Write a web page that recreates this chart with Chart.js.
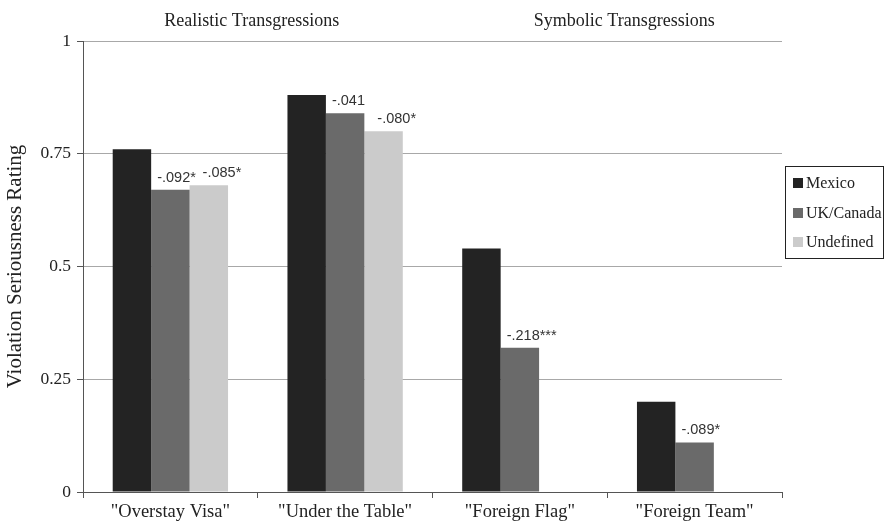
<!DOCTYPE html>
<html>
<head>
<meta charset="utf-8">
<script src="https://cdn.jsdelivr.net/npm/chart.js@4/dist/chart.umd.min.js"></script>
<style>
  html, body { margin: 0; padding: 0; background: #fff; }
  #wrap { width: 886px; height: 523px; position: relative; }
</style>
</head>
<body>
<div id="wrap"><canvas id="c" width="886" height="523"></canvas></div>
<script>
const categories = ['"Overstay Visa"', '"Under the Table"', '"Foreign Flag"', '"Foreign Team"'];
const seriesNames = ['Mexico', 'UK/Canada', 'Undefined'];
const mexico = [0.76, 0.88, 0.54, 0.20];
const ukCanada = [0.67, 0.84, 0.32, 0.11];
const undefinedOrigin = [0.68, 0.80, null, null];
const ukLabels = ['-.092*', '-.041', '-.218***', '-.089*'];
const undefinedLabels = ['-.085*', '-.080*', null, null];
const yTickValues = [0, 0.25, 0.5, 0.75, 1];
const yTickLabels = ['0', '0.25', '0.5', '0.75', '1'];
const groupTitles = ['Realistic Transgressions', 'Symbolic Transgressions'];
const yTitle = 'Violation Seriousness Rating';

const colors = ['#232323', '#6a6a6a', '#cbcbcb'];
const SERIF = '"Liberation Serif", "Times New Roman", serif';
const SANS = '"Liberation Sans", Arial, sans-serif';

const annotatePlugin = {
  id: 'annotate',
  afterDatasetsDraw(chart) {
    const ctx = chart.ctx;
    ctx.save();
    ctx.font = '14.5px ' + SANS;
    ctx.fillStyle = '#333';
    ctx.textAlign = 'left';
    ctx.textBaseline = 'alphabetic';
    const sets = [[1, ukLabels, 6], [2, undefinedLabels, 13]];
    sets.forEach(([di, labels, dx]) => {
      const meta = chart.getDatasetMeta(di);
      meta.data.forEach((bar, i) => {
        if (!labels[i]) return;
        const left = bar.x - bar.width / 2;
        ctx.fillText(labels[i], left + dx, bar.y - 8);
      });
    });
    // group titles
    const x = chart.scales.x;
    ctx.font = '18px ' + SERIF;
    ctx.fillStyle = '#222';
    ctx.textAlign = 'center';
    ctx.textBaseline = 'middle';
    const c0 = x.getPixelForValue(0), c1 = x.getPixelForValue(1);
    const c2 = x.getPixelForValue(2), c3 = x.getPixelForValue(3);
    ctx.fillText(groupTitles[0], (c0 + c1) / 2 - 6, 21);
    ctx.fillText(groupTitles[1], (c2 + c3) / 2 + 17, 21);
    // legend
    const lx = 785, ly = 166, lw = 98, lh = 92;
    ctx.strokeStyle = '#222';
    ctx.lineWidth = 1;
    ctx.strokeRect(lx + 0.5, ly + 0.5, lw, lh);
    ctx.font = '16px ' + SERIF;
    ctx.textAlign = 'left';
    const ys = [183, 213, 242];
    seriesNames.forEach((n, i) => {
      ctx.fillStyle = colors[i];
      ctx.fillRect(lx + 8, ys[i] - 5, 10, 10);
      ctx.fillStyle = '#222';
      ctx.fillText(n, lx + 21, ys[i] + 1);
    });
    ctx.restore();
  }
};

new Chart(document.getElementById('c'), {
  type: 'bar',
  data: {
    labels: categories,
    datasets: [
      { label: seriesNames[0], data: mexico, backgroundColor: colors[0] },
      { label: seriesNames[1], data: ukCanada, backgroundColor: colors[1] },
      { label: seriesNames[2], data: undefinedOrigin, backgroundColor: colors[2] }
    ]
  },
  options: {
    responsive: false,
    animation: false,
    layout: { padding: { left: 0, right: 104, top: 41, bottom: 0 } },
    datasets: { bar: { categoryPercentage: 0.66, barPercentage: 1.0 } },
    plugins: { legend: { display: false }, tooltip: { enabled: false }, title: { display: false } },
    scales: {
      x: {
        grid: { offset: true, drawOnChartArea: false, drawTicks: true, tickLength: 6, color: '#555' },
        border: { color: '#555', width: 1 },
        ticks: { font: { family: SERIF, size: 18.5 }, color: '#222', padding: 3 },
        afterFit(s) { s.height = 31; }
      },
      y: {
        min: 0, max: 1,
        afterBuildTicks(s) { s.ticks = yTickValues.map(v => ({ value: v })); },
        grid: {
          color: '#a8a8a8',
          tickColor: '#555',
          tickLength: 6,
          drawTicks: true
        },
        border: { color: '#555', width: 1 },
        ticks: {
          font: { family: SERIF, size: 17.5 }, color: '#222', padding: 6,
          callback: (v) => { const i = yTickValues.indexOf(v); return i >= 0 ? yTickLabels[i] : ''; }
        },
        title: { display: true, text: yTitle, font: { family: SERIF, size: 21 }, color: '#222', padding: { top: 3, bottom: 0 } },
        afterFit(s) { s.width = 83; }
      }
    }
  },
  plugins: [annotatePlugin]
});
</script>
</body>
</html>
